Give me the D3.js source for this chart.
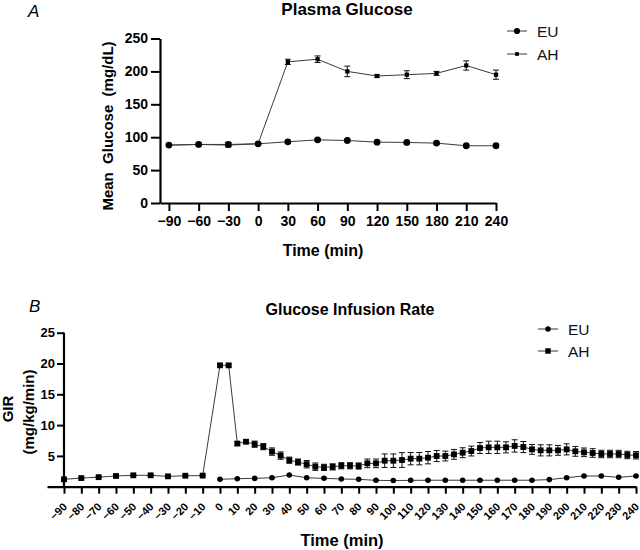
<!DOCTYPE html>
<html>
<head>
<meta charset="utf-8">
<script src="https://cdn.jsdelivr.net/npm/d3@7"></script>
<style>
  html, body { margin: 0; padding: 0; background: #fff; }
  svg { display: block; font-family: "Liberation Sans", Arial, sans-serif; }
</style>
</head>
<body>
<svg id="chart" width="640" height="550"></svg>
<script>
// ---------- Panel A: Plasma Glucose ----------
const timeA = [-90, -60, -30, 0, 30, 60, 90, 120, 150, 180, 210, 240];
const euA = [88, 89, 89, 90, 93, 96, 95, 92.5, 92, 91, 87, 87];
const euAErr = [2, 2, 3, 2, 2, 2, 2, 2, 2, 2, 2, 2];
const ahA = [88, 89, 88, 90, 214.5, 218.5, 200, 193, 195, 197, 209, 195];
const ahAErr = [2, 2, 3, 2, 4, 5, 8, 2, 6, 3, 7, 7];
const yTicksA = [0, 50, 100, 150, 200, 250];

// ---------- Panel B: Glucose Infusion Rate ----------
const timeAHB = [-90, -80, -70, -60, -50, -40, -30, -20, -10, 0, 5,
  10, 15, 20, 25, 30, 35, 40, 45, 50, 55, 60, 65, 70, 75, 80, 85, 90, 95, 100,
  105, 110, 115, 120, 125, 130, 135, 140, 145, 150, 155, 160, 165, 170, 175, 180,
  185, 190, 195, 200, 205, 210, 215, 220, 225, 230, 235, 240];
const ahB = [1.2, 1.4, 1.55, 1.74, 1.85, 1.85, 1.68, 1.78, 1.8, 19.7, 19.7,
  7.0, 7.3, 6.9, 6.5, 5.7, 5.05, 4.3, 4.0, 3.65, 3.25, 3.14, 3.22, 3.4, 3.4, 3.36, 3.79, 3.79, 4.22, 4.22,
  4.33, 4.55, 4.55, 4.71, 4.98, 4.98, 5.25, 5.52, 5.79, 6.28, 6.39, 6.39, 6.39, 6.62, 6.44, 6.06,
  5.9, 5.9, 5.9, 6.06, 5.74, 5.58, 5.47, 5.31, 5.31, 5.31, 5.15, 5.1];
const ahBErr = [0.1, 0.1, 0.1, 0.1, 0.1, 0.1, 0.1, 0.1, 0.1, 0.2, 0.2,
  0.3, 0.3, 0.5, 0.5, 0.6, 0.6, 0.5, 0.5, 0.6, 0.6, 0.5, 0.5, 0.5, 0.5, 0.5, 0.7, 0.7, 1.1, 1.1,
  1.2, 1.0, 1.0, 1.0, 0.9, 0.8, 0.8, 0.8, 0.8, 0.9, 1.0, 1.0, 0.9, 1.0, 0.9, 0.8,
  0.9, 0.9, 0.8, 0.9, 0.8, 0.7, 0.7, 0.6, 0.6, 0.6, 0.6, 0.6];
const timeEUB = [0, 10, 20, 30, 40, 50, 60, 70, 80, 90, 100, 110, 120, 130, 140, 150, 160, 170, 180, 190, 200, 210, 220, 230, 240];
const euB = [1.2, 1.3, 1.35, 1.45, 1.9, 1.45, 1.36, 1.25, 1.2, 1.03, 1.0, 1.03, 1.05, 1.05, 1.05, 1.05, 1.05, 1.05, 1.05, 1.15, 1.46, 1.74, 1.74, 1.52, 1.74];
const euBErr = euB.map(() => 0.1);
const xTicksB = d3.range(-90, 241, 10);
const yTicksB = [5, 10, 15, 20, 25];

const FONT = '"Liberation Sans", Arial, sans-serif';
const svg = d3.select("#chart");
const lineColor = "#3a3a3a";

function drawSeries(g, x, y, times, vals, errs, shape, size, capW) {
  const data = times.map((t, i) => ({ t, v: vals[i], e: errs[i] }));
  g.append("path").datum(data)
    .attr("fill", "none").attr("stroke", lineColor).attr("stroke-width", 1)
    .attr("d", d3.line().x(d => x(d.t)).y(d => y(d.v)));
  const eb = g.append("g").attr("stroke", "#111").attr("stroke-width", 1);
  data.forEach(d => {
    const y1 = y(d.v + d.e), y2 = y(d.v - d.e);
    eb.append("line").attr("x1", x(d.t)).attr("x2", x(d.t)).attr("y1", y1).attr("y2", y2);
    eb.append("line").attr("x1", x(d.t) - capW / 2).attr("x2", x(d.t) + capW / 2).attr("y1", y1).attr("y2", y1);
    eb.append("line").attr("x1", x(d.t) - capW / 2).attr("x2", x(d.t) + capW / 2).attr("y1", y2).attr("y2", y2);
  });
  const sym = d3.symbol().type(shape === "circle" ? d3.symbolCircle : d3.symbolSquare).size(size);
  g.append("g").selectAll("path").data(data).join("path")
    .attr("transform", d => `translate(${x(d.t)},${y(d.v)})`)
    .attr("d", sym).attr("fill", "#000");
}

function legend(g, x0, y0, gap, items) {
  items.forEach((it, i) => {
    const yy = y0 + i * gap;
    g.append("line").attr("x1", x0).attr("x2", x0 + 20).attr("y1", yy).attr("y2", yy)
      .attr("stroke", lineColor).attr("stroke-width", 1);
    g.append("path").attr("transform", `translate(${x0 + 10},${yy})`)
      .attr("d", d3.symbol().type(it.shape === "circle" ? d3.symbolCircle : d3.symbolSquare).size(it.size)())
      .attr("fill", "#000");
    g.append("text").attr("x", x0 + 30).attr("y", yy).attr("dy", "0.36em")
      .attr("font-size", 15.5).attr("fill", "#111").attr("font-family", FONT).text(it.label);
  });
}

function styleAxis(sel, fs) {
  sel.selectAll("path.domain").attr("stroke", "#000").attr("stroke-width", 2.2);
  sel.selectAll(".tick line").attr("stroke", "#000").attr("stroke-width", 2);
  sel.selectAll(".tick text").attr("font-family", FONT).attr("font-weight", "bold")
    .attr("font-size", fs).attr("fill", "#000");
}

// ===== Panel A =====
{
  const g = svg.append("g");
  const x = d3.scaleLinear().domain([-99, 240]).range([160, 496]);
  const y = d3.scaleLinear().domain([0, 250]).range([203, 38.5]);

  const xa = g.append("g").attr("transform", "translate(0,203)")
    .call(d3.axisBottom(x).tickValues(timeA).tickSize(8).tickSizeOuter(0).tickPadding(5));
  styleAxis(xa, 14);
  const ya = g.append("g").attr("transform", "translate(160,0)")
    .call(d3.axisLeft(y).tickValues(yTicksA).tickSize(9).tickSizeOuter(0).tickPadding(3));
  styleAxis(ya, 14);

  drawSeries(g, x, y, timeA, ahA, ahAErr, "square", 18, 6);
  drawSeries(g, x, y, timeA, euA, euAErr, "circle", 36, 6);

  g.append("text").attr("x", 347).attr("y", 15).attr("text-anchor", "middle")
    .attr("font-family", FONT).attr("font-weight", "bold").attr("font-size", 17).text("Plasma Glucose");
  g.append("text").attr("x", 28).attr("y", 17).attr("font-family", FONT).attr("font-style", "italic")
    .attr("font-size", 17).text("A");
  g.append("text").attr("transform", "translate(113,126) rotate(-90)").attr("text-anchor", "middle")
    .attr("font-family", FONT).attr("font-weight", "bold").attr("font-size", 15)
    .style("white-space", "pre").text("Mean  Glucose  (mg/dL)");
  g.append("text").attr("x", 323).attr("y", 256).attr("text-anchor", "middle")
    .attr("font-family", FONT).attr("font-weight", "bold").attr("font-size", 16).text("Time (min)");

  legend(g, 507, 31, 23, [
    { label: "EU", shape: "circle", size: 30 },
    { label: "AH", shape: "square", size: 14 }
  ]);
}

// ===== Panel B =====
{
  const g = svg.append("g");
  const x = d3.scaleLinear().domain([-99.8, 240]).range([47, 636]);
  const y = d3.scaleLinear().domain([0, 25]).range([486.7, 332.7]);
  const x0 = x(-90);

  const xa = g.append("g").attr("transform", "translate(0,486.7)")
    .call(d3.axisBottom(x).tickValues(xTicksB).tickSize(7).tickSizeOuter(0));
  styleAxis(xa, 11);
  xa.selectAll(".tick text")
    .attr("text-anchor", "end")
    .attr("transform", "translate(0.5,18) rotate(-45)")
    .attr("x", 0).attr("y", 0).attr("dy", "0.35em");

  const ya = g.append("g").attr("transform", `translate(${x0},0)`)
    .call(d3.axisLeft(y).tickValues(yTicksB).tickSize(7).tickSizeOuter(0).tickPadding(2));
  styleAxis(ya, 13);
  ya.select("path.domain").attr("d", `M0,${y(25)}V${y(0)}`);

  drawSeries(g, x, y, timeAHB, ahB, ahBErr, "square", 34, 6);
  drawSeries(g, x, y, timeEUB, euB, euBErr, "circle", 24, 5);

  g.append("text").attr("x", 350).attr("y", 315).attr("text-anchor", "middle")
    .attr("font-family", FONT).attr("font-weight", "bold").attr("font-size", 16).text("Glucose Infusion Rate");
  g.append("text").attr("x", 29).attr("y", 312).attr("font-family", FONT).attr("font-style", "italic")
    .attr("font-size", 17).text("B");
  g.append("text").attr("transform", "translate(13,409) rotate(-90)").attr("text-anchor", "middle")
    .attr("font-family", FONT).attr("font-weight", "bold").attr("font-size", 15).text("GIR");
  g.append("text").attr("transform", "translate(34,412) rotate(-90)").attr("text-anchor", "middle")
    .attr("font-family", FONT).attr("font-weight", "bold").attr("font-size", 15).text("(mg/kg/min)");
  g.append("text").attr("x", 342).attr("y", 546).attr("text-anchor", "middle")
    .attr("font-family", FONT).attr("font-weight", "bold").attr("font-size", 16.5).text("Time (min)");

  legend(g, 538, 329, 22, [
    { label: "EU", shape: "circle", size: 24 },
    { label: "AH", shape: "square", size: 30 }
  ]);
}
</script>
</body>
</html>
